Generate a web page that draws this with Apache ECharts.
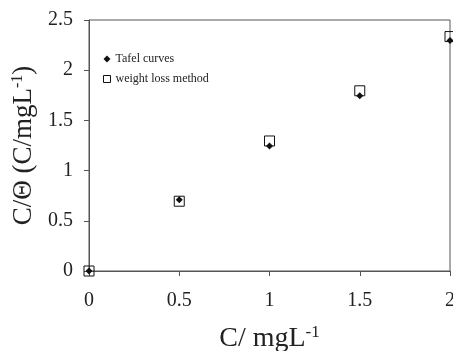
<!DOCTYPE html>
<html>
<head>
<meta charset="utf-8">
<script src="https://cdn.jsdelivr.net/npm/echarts@6/dist/echarts.min.js"></script>
<style>
  html, body { margin: 0; padding: 0; background: #fff; }
  #chart { width: 453px; height: 351px; }
</style>
</head>
<body>
<div id="chart"></div>
<script>
// concentrations (x) and C/theta values
const conc = [0, 0.5, 1, 1.5, 2]
const tafel = [0, 0.71, 1.245, 1.745, 2.295]
const weightLoss = [0, 0.695, 1.295, 1.795, 2.335]

const serif = '"Liberation Serif", "DejaVu Serif", serif'
const ink = '#222'
const lineColor = '#555'

const chart = echarts.init(document.getElementById('chart'))

chart.setOption({
  animation: false,
  grid: {
    left: 89,
    right: 3,
    top: 20,
    bottom: 80,
    containLabel: false,
    outerBoundsMode: 'none',
    show: true,
    borderColor: lineColor,
    borderWidth: 1
  },
  legend: {
    orient: 'vertical',
    left: 98,
    top: 48,
    itemWidth: 7,
    itemHeight: 7,
    itemGap: 8,
    textStyle: { fontFamily: serif, fontSize: 12, color: ink },
    data: [
      { name: 'Tafel curves', icon: 'diamond', itemStyle: { color: '#111' } },
      { name: 'weight loss method', icon: 'rect', itemStyle: { color: '#fff', borderColor: '#111', borderWidth: 1 } }
    ]
  },
  xAxis: {
    type: 'value',
    min: 0,
    max: 2,
    interval: 0.5,
    name: '{a|C/ mgL}{s|-1}',
    nameLocation: 'middle',
    nameGap: 53,
    nameTextStyle: {
      rich: {
        a: { fontFamily: serif, fontSize: 28, color: ink },
        s: { fontFamily: serif, fontSize: 17, color: ink, verticalAlign: 'top', padding: [0, 0, 12, 0] }
      }
    },
    axisLine: { lineStyle: { color: lineColor } },
    axisTick: { inside: false, length: 5, lineStyle: { color: lineColor } },
    axisLabel: { fontFamily: serif, fontSize: 20, color: ink, margin: 20 },
    splitLine: { show: false }
  },
  yAxis: {
    type: 'value',
    min: 0,
    max: 2.5,
    interval: 0.5,
    name: '{a|C/Θ (C/mgL}{s|-1}{a|)}',
    nameLocation: 'middle',
    nameGap: 50,
    nameTextStyle: {
      rich: {
        a: { fontFamily: serif, fontSize: 27, color: ink },
        s: { fontFamily: serif, fontSize: 16, color: ink, verticalAlign: 'top', padding: [0, 0, 12, 0] }
      }
    },
    axisLine: { show: true, lineStyle: { color: lineColor } },
    axisTick: { show: true, inside: false, length: 5, lineStyle: { color: lineColor } },
    axisLabel: { fontFamily: serif, fontSize: 20, color: ink, margin: 16 },
    splitLine: { show: false }
  },
  series: [
    {
      name: 'weight loss method',
      type: 'scatter',
      symbol: 'rect',
      symbolSize: 10,
      clip: false,
      itemStyle: { color: 'rgba(255,255,255,0)', borderColor: '#111', borderWidth: 1, opacity: 1 },
      data: conc.map((c, i) => [c, weightLoss[i]])
    },
    {
      name: 'Tafel curves',
      type: 'scatter',
      symbol: 'diamond',
      symbolSize: 7,
      clip: false,
      itemStyle: { color: '#111', opacity: 1 },
      data: conc.map((c, i) => [c, tafel[i]])
    }
  ]
})
</script>
</body>
</html>
